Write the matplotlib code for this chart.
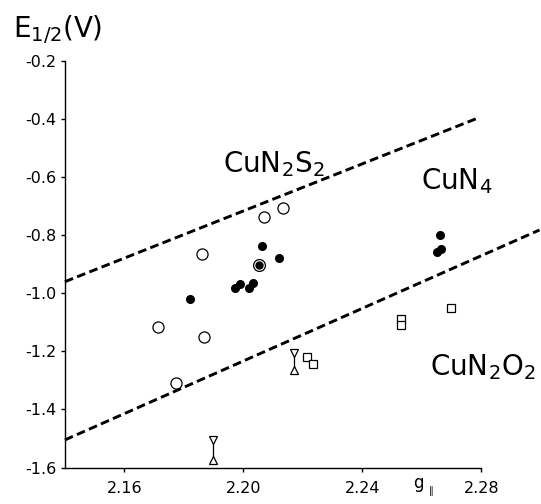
import matplotlib
matplotlib.use("Agg")
import matplotlib.pyplot as plt

# ---- data ----
open_x = [2.1713, 2.1773, 2.1860, 2.1867, 2.2070, 2.2134]
open_y = [-1.117, -1.308, -0.866, -1.149, -0.738, -0.705]

filled_x = [2.1821, 2.1972, 2.1987, 2.2019, 2.2031, 2.2061, 2.2118, 2.2661, 2.2649, 2.2663]
filled_y = [-1.021, -0.983, -0.968, -0.982, -0.966, -0.837, -0.877, -0.800, -0.857, -0.848]

circdot_x = [2.2053]
circdot_y = [-0.901]

square_x = [2.2699, 2.2529, 2.2529, 2.2215, 2.2233]
square_y = [-1.052, -1.087, -1.110, -1.220, -1.243]

range_x = [2.2171, 2.1897]
range_top = [-1.2066, -1.506]
range_bot = [-1.263, -1.575]

upper_line_x = [2.14, 2.2794]
upper_line_y = [-0.960, -0.394]
lower_line_x = [2.14, 2.2995]
lower_line_y = [-1.505, -0.782]

xticks = [2.16, 2.20, 2.24, 2.28]
xtick_labels = ["2.16", "2.20", "2.24", "2.28"]
yticks = [-0.2, -0.4, -0.6, -0.8, -1.0, -1.2, -1.4, -1.6]
ytick_labels = ["-0.2", "-0.4", "-0.6", "-0.8", "-1.0", "-1.2", "-1.4", "-1.6"]

labels = [("CuN$_2$S$_2$", 2.193, -0.582), ("CuN$_4$", 2.2596, -0.642), ("CuN$_2$O$_2$", 2.2626, -1.281)]

# ---- figure ----
fig = plt.figure(figsize=(5.41, 5.04), dpi=100)
ax = fig.add_axes([0.120, 0.0724, 0.770, 0.8066])
ax.set_xlim(2.14, 2.28)
ax.set_ylim(-1.6, -0.2)

for s in ["top", "right"]:
    ax.spines[s].set_visible(False)
for s in ["left", "bottom"]:
    ax.spines[s].set_linewidth(1.0)

ax.set_xticks(xticks)
ax.set_xticklabels(xtick_labels)
ax.set_yticks(yticks)
ax.set_yticklabels(ytick_labels)
ax.tick_params(axis="both", direction="out", length=3, width=1.0, labelsize=11.5)
ax.tick_params(axis="x", pad=7)
ax.tick_params(axis="y", pad=3)

dash = (3.0, 1.5)
ax.plot(upper_line_x, upper_line_y, color="black", lw=2.1, ls=(0, dash),
        dash_capstyle="butt", clip_on=False)
ax.plot(lower_line_x, lower_line_y, color="black", lw=2.1, ls=(0, dash),
        dash_capstyle="butt", clip_on=False)

ax.plot(open_x, open_y, "o", ms=8, mfc="white", mec="black", mew=0.9, ls="none")
ax.plot(filled_x, filled_y, "o", ms=5.5, mfc="black", mec="black", ls="none")
ax.plot(circdot_x, circdot_y, "o", ms=8.5, mfc="white", mec="black", mew=0.9, ls="none")
ax.plot(circdot_x, circdot_y, "o", ms=5, mfc="black", mec="black", ls="none")
ax.plot(square_x, square_y, "s", ms=5.2, mfc="white", mec="black", mew=0.9, ls="none")

for x, t, b in zip(range_x, range_top, range_bot):
    ax.plot([x, x], [t, b], color="black", lw=0.9)
    ax.plot([x], [t], "v", ms=5.5, mfc="white", mec="black", mew=0.9)
    ax.plot([x], [b], "^", ms=5.5, mfc="white", mec="black", mew=0.9)

for txt, x, y in labels:
    ax.text(x, y, txt, fontsize=20, ha="left", va="baseline")

fig.text(0.024, 0.9266, "E$_{1/2}$(V)", fontsize=20, ha="left", va="baseline")
fig.text(413 / 541, 1 - 488 / 504, "g", fontsize=12, ha="left", va="baseline")
fig.text(427 / 541, 1 - 494 / 504, r"$\parallel$", fontsize=7, ha="left", va="baseline")

fig.savefig("out.png", dpi=100)
